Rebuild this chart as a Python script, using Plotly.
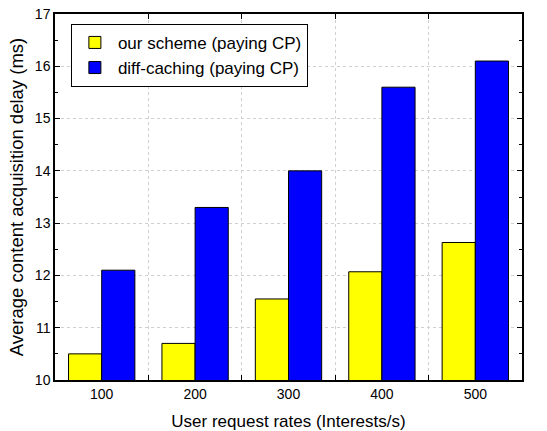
import plotly.graph_objects as go

categories = ["100", "200", "300", "400", "500"]
our_scheme = [10.5, 10.7, 11.55, 12.07, 12.63]
diff_caching = [12.1, 13.3, 14.0, 15.6, 16.1]

FONT = "Liberation Sans, Arial, sans-serif"

fig = go.Figure()
fig.add_trace(go.Bar(x=categories, y=our_scheme, name="our scheme (paying CP)",
                     marker=dict(color="#ffff00", line=dict(color="#000000", width=1))))
fig.add_trace(go.Bar(x=categories, y=diff_caching, name="diff-caching (paying CP)",
                     marker=dict(color="#0000ff", line=dict(color="#000000", width=1))))

fig.update_layout(
    width=547, height=431,
    margin=dict(l=55, r=25, t=14, b=51, autoexpand=False),
    paper_bgcolor="white", plot_bgcolor="white",
    barmode="group", bargap=0.29, bargroupgap=0,
    font=dict(family=FONT, color="black", size=14),
    legend=dict(x=0.034, y=0.973, xanchor="left", yanchor="top",
                bordercolor="black", borderwidth=1, bgcolor="white",
                font=dict(size=17, family=FONT), tracegroupgap=0,
                itemwidth=36),
    showlegend=True,
)
fig.update_xaxes(
    type="category", tickson="boundaries", automargin=False,
    range=[-0.5, 4.5],
    showline=True, linecolor="black", linewidth=1.5, mirror="allticks",
    ticks="inside", ticklen=5, tickcolor="black",
    showgrid=True, gridcolor="#d0d0d0", griddash="dot", gridwidth=1,
    tickfont=dict(size=14),
    title=dict(text="User request rates (Interests/s)", font=dict(size=17), standoff=19),
)
fig.update_yaxes(
    range=[10, 17], dtick=1, tick0=10, automargin=False,
    showline=True, linecolor="black", linewidth=1.5, mirror="allticks",
    ticks="inside", ticklen=5, tickcolor="black",
    minor=dict(dtick=0.5, ticks="inside", ticklen=3, tickcolor="black", showgrid=False),
    showgrid=True, gridcolor="#d0d0d0", griddash="dot", gridwidth=1,
    zeroline=False,
    tickfont=dict(size=14),
    title=dict(text="Average content acquisition delay (ms)", font=dict(size=18.5), standoff=6),
)

fig.write_html("out.html", config={"displayModeBar": False},
               post_script="document.body.style.margin='0';document.body.style.overflow='hidden';")
